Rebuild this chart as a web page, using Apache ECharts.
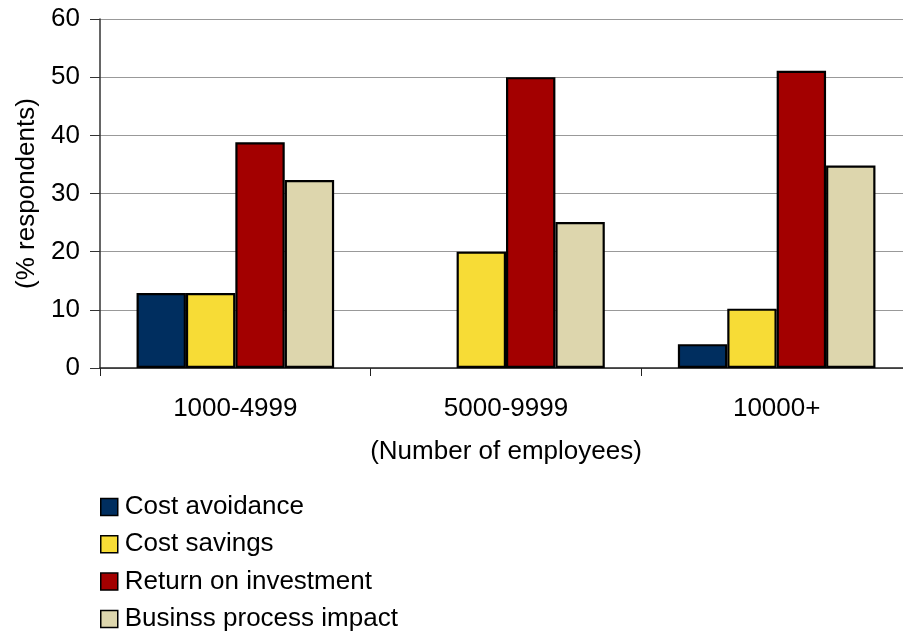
<!DOCTYPE html>
<html>
<head>
<meta charset="utf-8">
<script src="https://cdn.jsdelivr.net/npm/echarts@6/dist/echarts.min.js"></script>
<style>html,body{margin:0;padding:0;background:#fff}#c{width:903px;height:632px}</style>
</head>
<body>
<div id="c"></div>
<script>
var categories = ['1000-4999', '5000-9999', '10000+'];
var costAvoidance = [12.9, 0, 4.1];
var costSavings = [12.9, 20.0, 10.2];
var returnOnInvestment = [38.8, 50.0, 51.1];
var businessProcessImpact = [32.3, 25.1, 34.8];
var seriesNames = ['Cost avoidance', 'Cost savings', 'Return on investment', 'Businss process impact'];
var seriesColors = ['#002E5F', '#F7DC36', '#A30000', '#DDD6AD'];
var yTicks = [0, 10, 20, 30, 40, 50, 60];

var font = 'Arial, "Liberation Sans", sans-serif';
var dataSets = [costAvoidance, costSavings, returnOnInvestment, businessProcessImpact];
var chart = echarts.init(document.getElementById('c'), null, {renderer: 'canvas'});
chart.setOption({
  animation: false,
  textStyle: {fontFamily: font},
  grid: {left: 100, top: 19, right: -9, bottom: 264, containLabel: false, outerBoundsMode: 'none'},
  legend: {
    orient: 'vertical', left: 100, top: 494, height: 140, padding: 0,
    itemWidth: 17, itemHeight: 17, itemGap: 11.3,
    icon: 'rect',
    itemStyle: {borderColor: '#000', borderWidth: 1.5},
    textStyle: {fontSize: 26, color: '#000', fontFamily: font, padding: [0, 0, 0, 2]},
    data: seriesNames
  },
  xAxis: {
    type: 'category', data: categories,
    name: '(Number of employees)', nameLocation: 'middle', nameGap: 71,
    nameTextStyle: {fontSize: 26, color: '#000', fontFamily: font},
    axisLine: {lineStyle: {color: '#222', width: 1.5}},
    axisTick: {show: true, length: 8, lineStyle: {color: '#222'}},
    axisLabel: {fontSize: 26, color: '#000', margin: 28, fontFamily: font}
  },
  yAxis: {
    type: 'value', min: 0, max: 60, interval: 10,
    name: '(% respondents)', nameLocation: 'middle', nameGap: 59, nameRotate: 90,
    nameTextStyle: {fontSize: 26, color: '#000', fontFamily: font},
    axisLine: {show: true, lineStyle: {color: '#333', width: 1.5}},
    axisTick: {show: true, length: 10, inside: false, lineStyle: {color: '#333'}},
    axisLabel: {fontSize: 26, color: '#000', margin: 20, fontFamily: font,
      formatter: function (v) { return yTicks.indexOf(v) >= 0 ? String(v) : ''; }},
    splitLine: {show: true, lineStyle: {color: '#999', width: 1}}
  },
  series: dataSets.map(function (d, i) {
    return {
      name: seriesNames[i], type: 'bar',
      data: d.map(function (v) { return v === 0 ? {value: v, itemStyle: {borderWidth: 0}} : v; }),
      barGap: '0%', barCategoryGap: '27%',
      itemStyle: {color: seriesColors[i], borderColor: '#000', borderWidth: 2.2}
    };
  })
});
</script>
</body>
</html>
